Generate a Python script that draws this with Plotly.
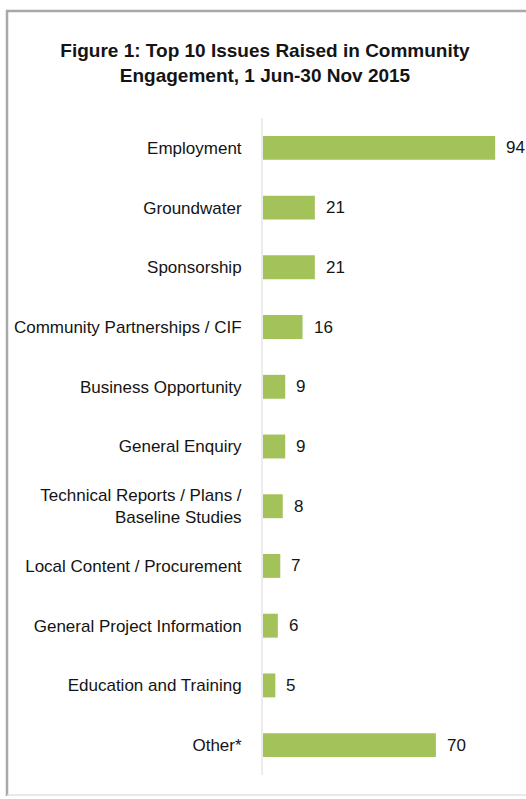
import plotly.graph_objects as go

# Issue categories (top to bottom) and number of times each was raised
categories = [
    "Employment",
    "Groundwater",
    "Sponsorship",
    "Community Partnerships / CIF",
    "Business Opportunity",
    "General Enquiry",
    "Technical Reports / Plans /<br>Baseline Studies",
    "Local Content / Procurement",
    "General Project Information",
    "Education and Training",
    "Other*",
]
counts = [94, 21, 21, 16, 9, 9, 8, 7, 6, 5, 70]

title_text = "Figure 1: Top 10 Issues Raised in Community<br>Engagement, 1 Jun-30 Nov 2015"

FONT = "Liberation Sans, Arial, sans-serif"
BAR_COLOR = "#a3c25a"
TEXT_COLOR = "#141414"

# plot area geometry in pixels
W, H = 526, 799
ML, MR, MT, MB = 263, 16, 118, 24
PW, PH = W - ML - MR, H - MT - MB


def px_x(p):
    return (p - ML) / PW


def px_y(p):
    return 1 - (p - MT) / PH


fig = go.Figure(
    go.Bar(
        x=counts,
        y=categories,
        orientation="h",
        marker=dict(color=BAR_COLOR, line=dict(width=0)),
        hoverinfo="x+y",
    )
)

# value labels just past the end of each bar
for cat, val in zip(categories, counts):
    fig.add_annotation(
        x=val, y=cat, xref="x", yref="y",
        text=str(val), showarrow=False,
        xanchor="left", yanchor="middle", xshift=9,
        font=dict(family=FONT, size=17, color=TEXT_COLOR),
    )

# outer frame: top and left edges, faint bottom edge
fig.add_shape(type="line", xref="paper", yref="paper",
              x0=px_x(6), x1=px_x(540), y0=px_y(11), y1=px_y(11),
              line=dict(color="#a8a8a8", width=2.5))
fig.add_shape(type="line", xref="paper", yref="paper",
              x0=px_x(7), x1=px_x(7), y0=px_y(796), y1=px_y(10),
              line=dict(color="#a8a8a8", width=2.5))
fig.add_shape(type="line", xref="paper", yref="paper",
              x0=px_x(7), x1=px_x(540), y0=px_y(795), y1=px_y(795),
              line=dict(color="#e2e2e2", width=1.5))

fig.update_layout(
    width=W,
    height=H,
    margin=dict(l=ML, r=MR, t=MT, b=MB, autoexpand=False),
    paper_bgcolor="white",
    plot_bgcolor="white",
    bargap=0.6,
    showlegend=False,
    title=dict(
        text=title_text,
        x=265 / W, xanchor="center",
        y=1 - 57 / H, yanchor="top",
        font=dict(family=FONT, size=19, color=TEXT_COLOR, weight="bold"),
    ),
    xaxis=dict(
        range=[0, 100],
        visible=False,
        fixedrange=True,
    ),
    yaxis=dict(
        autorange="reversed",
        automargin=False,
        showgrid=False,
        zeroline=False,
        showline=True,
        linecolor="#ececec",
        linewidth=2,
        ticks="",
        ticklabelstandoff=16,
        tickfont=dict(family=FONT, size=17, color=TEXT_COLOR),
        fixedrange=True,
    ),
)

fig.write_html("out.html")
